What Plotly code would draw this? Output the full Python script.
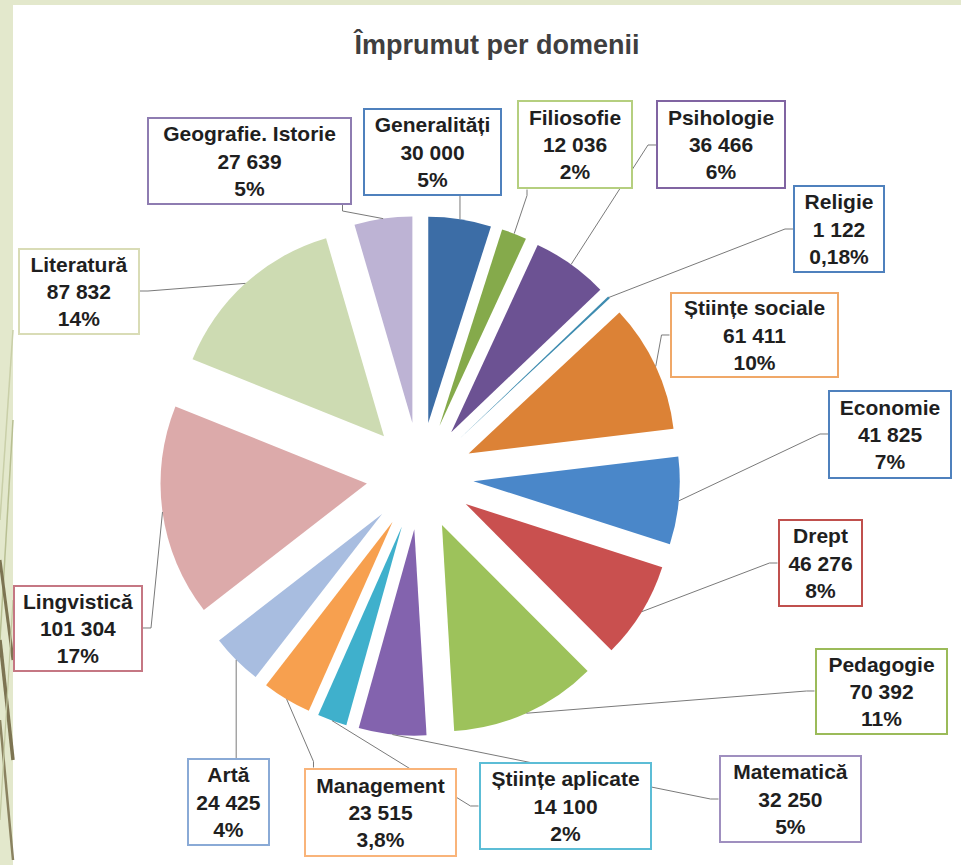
import math
import plotly.graph_objects as go

# Loans by subject area (clockwise from 12 o'clock)
domains = [
    "Generalități", "Filiosofie", "Psihologie", "Religie", "Științe sociale",
    "Economie", "Drept", "Pedagogie", "Matematică", "Științe aplicate",
    "Management", "Artă", "Lingvistică", "Literatură", "Geografie. Istorie",
]
loans = [30000, 12036, 36466, 1122, 61411, 41825, 46276, 70392, 32250,
         14100, 23515, 24425, 101304, 87832, 27639]
shares = ["5%", "2%", "6%", "0,18%", "10%", "7%", "8%", "11%", "5%",
          "2%", "3,8%", "4%", "17%", "14%", "5%"]

slice_colors = [
    "#3c6da6", "#85aa4b", "#6c5293", "#3e8cb0", "#dc8236",
    "#4a87c9", "#c9504f", "#9dc25b", "#8363ae", "#3fb0cc",
    "#f7a04f", "#a8bde0", "#dcaaaa", "#cddbb2", "#bdb3d4",
]
border_colors = [
    "#4f81bd", "#b5cf7f", "#8064a2", "#4f81bd", "#f0a868",
    "#4f81bd", "#c0504d", "#9bbb59", "#9f8fbf", "#5cbdd6",
    "#f9b47a", "#8aaad6", "#c57783", "#d9dcb6", "#8e7cb1",
]

# Label boxes: centre x, centre y, width, height (pixels, top-left origin)
boxes = [
    (432, 152, 139, 88), (575, 145, 116, 89), (721, 145, 130, 89),
    (839, 229, 92, 88), (754, 335, 169, 86), (890, 434, 124, 89),
    (820, 563, 85, 88), (881, 691, 133, 87), (790, 799, 143, 88),
    (565, 806, 173, 88), (380, 812, 153, 89), (228, 802, 83, 88),
    (78, 628, 130, 87), (79, 291, 122, 87), (250, 161, 205, 88),
]
# Side of each box where its leader line leaves
leader_side = ["b", "b", "l", "l", "l", "l", "l", "l", "l", "l",
               "t", "t", "r", "r", "b"]

W, H = 961, 865
PULL = 0.26
dom_x = [0.1665, 0.7076]
dom_y = [0.1491, 0.7503]

fig = go.Figure()
fig.add_trace(go.Pie(
    labels=domains,
    values=loans,
    sort=False,
    direction="clockwise",
    rotation=0,
    pull=[PULL] * len(loans),
    marker=dict(colors=slice_colors, line=dict(width=0)),
    textinfo="none",
    hoverinfo="label+value",
    showlegend=False,
    domain=dict(x=dom_x, y=dom_y),
))

# Pie geometry in pixels (same rules plotly uses to size a pie)
box_w = W * (dom_x[1] - dom_x[0])
box_h = H * (dom_y[1] - dom_y[0])
r0 = min(box_w, box_h) / (2 + 2 * PULL)
cx = W * (dom_x[0] + dom_x[1]) / 2
cy = H - H * (dom_y[0] + dom_y[1]) / 2
r_out = r0 * (1 + PULL)


def px(x, y):
    return f"{x / W:.5f},{1 - y / H:.5f}"


total = sum(loans)
annotations = []
shapes = [
    dict(type="rect", xref="paper", yref="paper", x0=0, x1=13 / W, y0=0, y1=1,
         fillcolor="#e3e8cc", line=dict(width=0), layer="below"),
    dict(type="rect", xref="paper", yref="paper", x0=0, x1=1, y0=1 - 5 / H, y1=1,
         fillcolor="#e3e8cc", line=dict(width=0), layer="below"),
]
strokes = [
    ((13, 330), (0, 520), "#c9cfa8", 1.5),
    ((13, 420), (0, 640), "#b8bf92", 1.5),
    ((0, 560), (13, 660), "#7d7452", 3),
    ((0, 640), (13, 760), "#7d7452", 3.5),
    ((0, 720), (13, 860), "#8a8260", 2.5),
    ((13, 600), (0, 820), "#c2c8a0", 1.2),
]
for (x0, y0), (x1, y1), col, wd in strokes:
    shapes.append(dict(type="line", xref="paper", yref="paper",
                       x0=x0 / W, y0=1 - y0 / H, x1=x1 / W, y1=1 - y1 / H,
                       line=dict(color=col, width=wd), layer="below"))

cum = 0
for name, v, pct, bc, (bx, by, bw, bh), side in zip(
        domains, loans, shares, border_colors, boxes, leader_side):
    mid = (cum + v / 2) / total * 2 * math.pi
    cum += v
    tx = cx + r_out * math.sin(mid)
    ty = cy - r_out * math.cos(mid)

    # leader line: leaves the box with a short elbow, then runs to the slice
    if side in ("l", "r"):
        sx = bx - bw / 2 if side == "l" else bx + bw / 2
        sy = by
        ex = sx - 8 if side == "l" else sx + 8
        ey = sy
    else:
        sx = min(max(tx, bx - bw / 2 + 10), bx + bw / 2 - 10)
        sy = by + bh / 2 if side == "b" else by - bh / 2
        ex = sx
        ey = sy + 6 if side == "b" else sy - 6
    shapes.append(dict(
        type="path", xref="paper", yref="paper",
        path=f"M{px(sx, sy)} L{px(ex, ey)} L{px(tx, ty)}",
        line=dict(color="#7a7a7a", width=1), layer="above",
    ))

    value_txt = f"{v:,}".replace(",", " ")
    annotations.append(dict(
        x=bx / W, y=1 - by / H, xref="paper", yref="paper",
        xanchor="center", yanchor="middle",
        text=f"{name}<br>{value_txt}<br>{pct}",
        showarrow=False,
        bgcolor="#ffffff", bordercolor=bc, borderwidth=2, borderpad=1,
        width=bw - 6, height=bh - 6,
        align="center", valign="middle",
        font=dict(family="Liberation Sans, Arial, sans-serif", size=21,
                  color="#1f1f1f", weight="bold"),
    ))

fig.update_layout(
    width=W, height=H, autosize=False,
    margin=dict(l=0, r=0, t=0, b=0),
    paper_bgcolor="#ffffff",
    title=dict(
        text="Împrumut per domenii",
        x=497 / W, xanchor="center", y=1 - 45 / H, yanchor="middle",
        font=dict(family="Liberation Sans, Arial, sans-serif", size=27,
                  color="#3f3f3f", weight="bold"),
    ),
    annotations=annotations,
    shapes=shapes,
)

fig.write_html("out.html")
